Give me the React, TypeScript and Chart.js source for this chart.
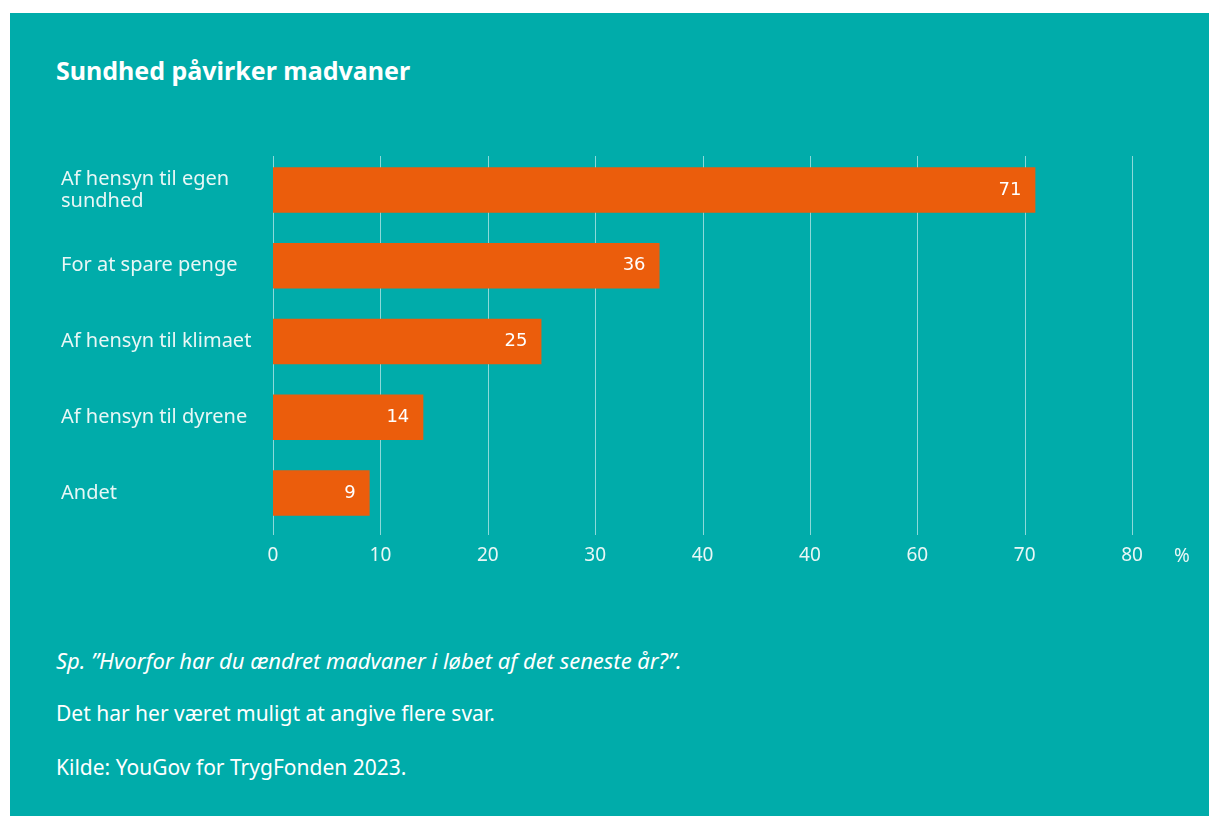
import React, { useEffect, useRef } from "react";
import { Chart, registerables } from "chart.js";

Chart.register(...registerables);

const categories: (string | string[])[] = [
  ["Af hensyn til egen", "sundhed"],
  "For at spare penge",
  "Af hensyn til klimaet",
  "Af hensyn til dyrene",
  "Andet",
];
const values = [71, 36, 25, 14, 9];
const xTickLabels = ["0", "10", "20", "30", "40", "40", "60", "70", "80"];

const TEAL = "#00ACAA";
const ORANGE = "#EB5D0C";

const gridPlugin = {
  id: "customGrid",
  beforeDatasetsDraw(chart: any) {
    const ctx = chart.ctx;
    const xs = chart.scales.x;
    const area = chart.chartArea;
    ctx.save();
    ctx.strokeStyle = "rgba(255,255,255,0.55)";
    ctx.lineWidth = 1;
    xs.ticks.forEach((t: any) => {
      const px = Math.round(xs.getPixelForValue(t.value)) + 0.5;
      ctx.beginPath();
      ctx.moveTo(px, area.top + 4);
      ctx.lineTo(px, area.bottom + 4);
      ctx.stroke();
    });
    ctx.restore();
  },
};

const valueLabelPlugin = {
  id: "valueLabels",
  afterDatasetsDraw(chart: any) {
    const ctx = chart.ctx;
    const meta = chart.getDatasetMeta(0);
    ctx.save();
    ctx.font = "18px 'DejaVu Sans'";
    ctx.fillStyle = "#ffffff";
    ctx.textAlign = "right";
    ctx.textBaseline = "middle";
    meta.data.forEach((bar: any, i: number) => {
      ctx.fillText(String(values[i]), bar.x - 14, bar.y);
    });
    ctx.restore();
  },
};

export default function App() {
  const ref = useRef<HTMLCanvasElement>(null);
  useEffect(() => {
    const chart = new Chart(ref.current as HTMLCanvasElement, {
      type: "bar",
      data: {
        labels: categories,
        datasets: [
          {
            data: values,
            backgroundColor: ORANGE,
            borderWidth: 0,
            barPercentage: 0.6,
            categoryPercentage: 1,
          },
        ],
      },
      options: {
        indexAxis: "y",
        animation: false,
        responsive: false,
        maintainAspectRatio: false,
        layout: { padding: { left: 51, top: 139, right: 77, bottom: 0 } },
        plugins: { legend: { display: false }, tooltip: { enabled: false } },
        scales: {
          x: {
            min: 0,
            max: 80,
            ticks: {
              stepSize: 10,
              color: "#e8f7f6",
              font: { family: "'Noto Sans'", size: 19 },
              padding: 13,
              callback: (_v: any, i: number) => xTickLabels[i],
            },
            grid: { display: false, drawTicks: false },
            border: { display: false },
            afterFit: (s: any) => {
              s.height = 44;
              s.paddingLeft = 0;
              s.paddingRight = 0;
            },
          },
          y: {
            ticks: {
              crossAlign: "far",
              color: "#e8f7f6",
              font: { family: "'Noto Sans'", size: 20, lineHeight: 1.1 },
              padding: 0,
            },
            grid: { display: false, drawTicks: false },
            border: { display: false },
            afterFit: (s: any) => {
              s.width = 212;
              s.paddingTop = 0;
              s.paddingBottom = 0;
            },
          },
        },
      },
      plugins: [gridPlugin, valueLabelPlugin],
    });
    return () => chart.destroy();
  }, []);

  const textBase: React.CSSProperties = {
    position: "absolute",
    left: 46,
    color: "#ffffff",
    fontFamily: "'Noto Sans', sans-serif",
    fontSize: 21,
    lineHeight: "26px",
    whiteSpace: "nowrap",
  };

  return (
    <div
      style={{
        position: "absolute",
        left: 10,
        top: 13,
        width: 1199,
        height: 803,
        background: TEAL,
        overflow: "hidden",
      }}
    >
      <div
        style={{
          ...textBase,
          top: 40,
          fontSize: 25,
          fontWeight: 700,
          lineHeight: "34px",
        }}
      >
        Sundhed påvirker madvaner
      </div>
      <canvas
        ref={ref}
        width={1199}
        height={562}
        style={{ position: "absolute", left: 0, top: 0, width: 1199, height: 562 }}
      />
      <div style={{ ...textBase, left: 1164, top: 529, fontSize: 19, color: "#e8f7f6" }}>%</div>
      <div style={{ ...textBase, top: 634, fontStyle: "italic", fontSize: 22 }}>
        Sp. ”Hvorfor har du ændret madvaner i løbet af det seneste år?”.
      </div>
      <div style={{ ...textBase, top: 687 }}>
        Det har her været muligt at angive flere svar.
      </div>
      <div style={{ ...textBase, top: 741 }}>Kilde: YouGov for TrygFonden 2023.</div>
    </div>
  );
}
